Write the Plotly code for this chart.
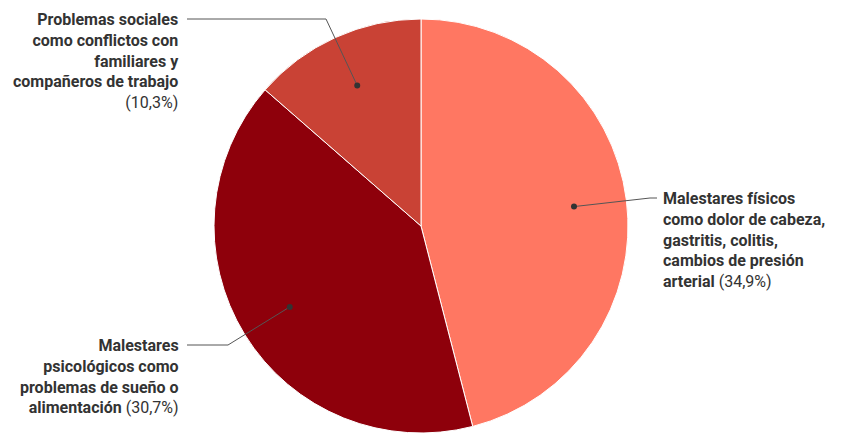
import math

import plotly.graph_objects as go

# data
labels_bold = [
    "Malestares físicos<br>como dolor de cabeza,<br>gastritis, colitis,<br>cambios de presión<br>arterial",
    "Malestares<br>psicológicos como<br>problemas de sueño o<br>alimentación",
    "Problemas sociales<br>como conflictos con<br>familiares y<br>compañeros de trabajo<br>",
]
names = ["Malestares físicos", "Malestares psicológicos", "Problemas sociales"]
values = [34.9, 30.7, 10.3]
colors = ["#FF7762", "#8E000B", "#C94235"]

W, H = 842, 438
TOP, BOT = 19, 5
radius = (H - TOP - BOT) / 2
cx, cy = W / 2, TOP + radius

# label placement (pixels): elbow point, line end, text anchor
elbows = [(650, 198), (228, 345), (326, 19)]
ends = [(657, 198), (187, 345), (187, 19)]
anchors = [(661, 198, "left"), (181, 345, "right"), (181, 19, "right")]

fig = go.Figure()
fig.add_trace(go.Pie(
    labels=names, values=values, sort=False, direction="clockwise",
    marker=dict(colors=colors, line=dict(color="white", width=1)),
    textinfo="none", hoverinfo="skip", showlegend=False,
    domain=dict(x=[0, 1], y=[BOT / H, 1 - TOP / H]),
))

total = sum(values)
start = 0.0
for i, v in enumerate(values):
    mid = math.radians((start + v / 2) / total * 360)
    start += v
    dx = cx + 0.745 * radius * math.sin(mid)
    dy = cy - 0.745 * radius * math.cos(mid)
    ex, ey = elbows[i]
    fx, fy = ends[i]
    fig.add_shape(
        type="path", path=f"M {dx} {dy} L {ex} {ey} L {fx} {fy}",
        xref="x", yref="y", layer="above",
        line=dict(color="#555555", width=1),
    )
    fig.add_shape(
        type="circle", x0=dx - 3, x1=dx + 3, y0=dy - 3, y1=dy + 3,
        xref="x", yref="y", layer="above",
        fillcolor="#333333", line=dict(width=0),
    )
    pct = f"{v:.1f}".replace(".", ",")
    ax, ay, al = anchors[i]
    fig.add_annotation(
        x=ax, y=ay, xref="x", yref="y", showarrow=False,
        text=f"<b>{labels_bold[i]}</b> ({pct}%)",
        align=al, xanchor=al, yanchor="top", yshift=11,
        font=dict(family="Roboto", size=16, color="#333333"),
    )

fig.update_layout(
    width=W, height=H, margin=dict(l=0, r=0, t=0, b=0),
    paper_bgcolor="white", plot_bgcolor="rgba(0,0,0,0)",
    xaxis=dict(range=[0, W], visible=False, fixedrange=True),
    yaxis=dict(range=[H, 0], visible=False, fixedrange=True),
)
fig.write_html(
    "out.html",
    config={"displayModeBar": False},
    post_script="document.body.style.margin='0';",
)
